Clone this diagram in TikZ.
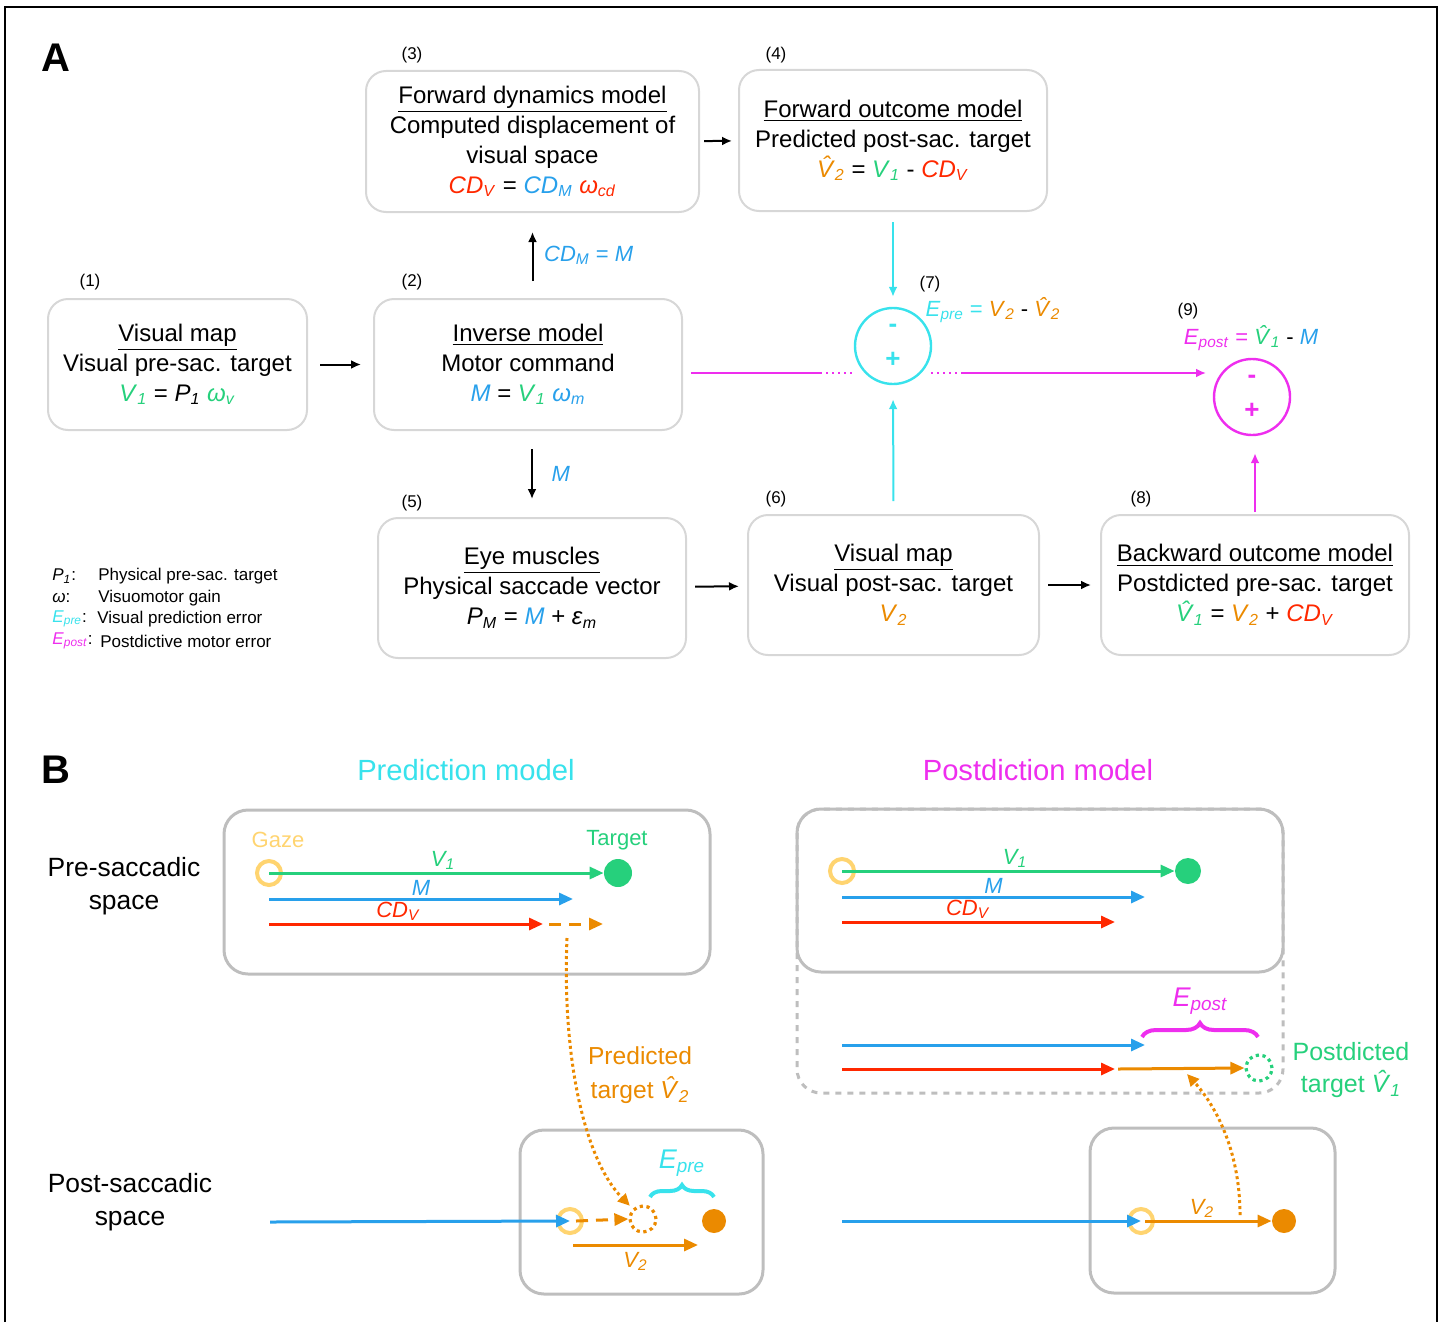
\documentclass[tikz,border=0pt]{standalone}
\usepackage{fontspec}
\setmainfont{Liberation Sans}
\usetikzlibrary{arrows.meta,positioning,decorations.pathreplacing,calc}

\definecolor{vgreen}{RGB}{38,208,124}
\definecolor{mblue}{RGB}{40,160,235}
\definecolor{cdred}{RGB}{255,40,0}
\definecolor{vorange}{RGB}{235,138,0}
\definecolor{precyan}{RGB}{56,226,236}
\definecolor{postmag}{RGB}{238,46,238}
\definecolor{gazeyel}{RGB}{255,212,112}
\definecolor{boxgray}{RGB}{215,215,215}
\definecolor{panelgray}{RGB}{190,190,190}

\newcommand{\vsym}[2]{\textit{#1}\textsubscript{\textit{#2}}}
\newcommand{\hsym}[2]{\textit{\rlap{\kern0.22em\raisebox{0.16em}{ˆ}}#1}\textsubscript{\textit{#2}}}

\begin{document}
\begin{tikzpicture}[
        x=0.5pt, y=-0.5pt,
        box/.style={draw=boxgray, line width=1pt, rounded corners=10pt, align=center, inner sep=2pt, font=\fontsize{12}{15}\selectfont},
        num/.style={font=\fontsize{8.5}{10}\selectfont, inner sep=0pt},
        legend/.style={anchor=west, font=\fontsize{8.5}{10}\selectfont, inner sep=0pt},
        errc/.style={circle, line width=1.2pt, minimum size=38pt, inner sep=0pt, align=center, font=\bfseries\fontsize{13}{17.5}\selectfont},
        link/.style={-{Latex[length=5pt,width=4.5pt]}, line width=1pt},
        letter/.style={font=\bfseries\fontsize{20}{20}\selectfont},
        panel/.style={draw=panelgray, line width=1.5pt, rounded corners=12pt},
        gaze/.style={circle, draw=gazeyel, line width=2pt, minimum size=12pt, inner sep=0pt},
        fulldot/.style={circle, fill=#1, minimum size=13pt, inner sep=0pt},
        ghost/.style={circle, draw=#1, line width=1.6pt, dash pattern=on 1.6pt off 1.8pt, minimum size=13pt, inner sep=0pt},
        vec/.style={-{Triangle[length=7pt,width=6pt]}, line width=1.5pt},
        jump/.style={-{Triangle[length=6pt,width=5.5pt]}, line width=1.5pt, dash pattern=on 1.5pt off 1.5pt, vorange},
        vlabel/.style={font=\itshape\fontsize{11}{13}\selectfont, inner sep=1pt},
        bigtext/.style={align=center, font=\fontsize{13.2}{16.5}\selectfont}
    ]
        \useasboundingbox (0,0) rectangle (1443,1322);
        \draw[line width=0.6pt] (5,1322) -- (5,7) -- (1437,7) -- (1437,1322);

        % Panel A
        \node[letter] (A) at (56,58) {A};
        \node[box, minimum width=129.5pt, minimum height=65.5pt] (vmap1) at (177.5,364.5)
            {\underline{Visual map}\\Visual pre-sac. target\\\textcolor{vgreen}{\vsym{V}{1}} = \vsym{P}{1} \textcolor{vgreen}{\vsym{ω}{v}}};
        \node[box, minimum width=154pt, minimum height=65.5pt] (inverse) at (528,364.5)
            {\underline{Inverse model}\\Motor command\\\textcolor{mblue}{\textit{M}} = \textcolor{vgreen}{\vsym{V}{1}} \textcolor{mblue}{\vsym{ω}{m}}};
        \node[box, minimum width=166.5pt, minimum height=70.5pt] (fwddyn) at (532.5,141.5)
            {\underline{Forward dynamics model}\\Computed displacement of\\visual space\\\textcolor{cdred}{\vsym{CD}{V}} = \textcolor{mblue}{\vsym{CD}{M}} \textcolor{cdred}{\vsym{ω}{cd}}};
        \node[box, minimum width=154pt, minimum height=70.5pt] (fwdout) at (893,140.5)
            {\underline{Forward outcome model}\\Predicted post-sac. target\\\textcolor{vorange}{\hsym{V}{2}} = \textcolor{vgreen}{\vsym{V}{1}} - \textcolor{cdred}{\vsym{CD}{V}}};
        \node[box, minimum width=154pt, minimum height=70pt] (muscles) at (532,588)
            {\underline{Eye muscles}\\Physical saccade vector\\\vsym{P}{M} = \textcolor{mblue}{\textit{M}} + \vsym{ε}{m}};
        \node[box, minimum width=145.5pt, minimum height=70pt] (vmap2) at (893.5,585)
            {\underline{Visual map}\\Visual post-sac. target\\\textcolor{vorange}{\vsym{V}{2}}};
        \node[box, minimum width=154pt, minimum height=70pt] (bwdout) at (1255,585)
            {\underline{Backward outcome model}\\Postdicted pre-sac. target\\\textcolor{vgreen}{\hsym{V}{1}} = \textcolor{vorange}{\vsym{V}{2}} + \textcolor{cdred}{\vsym{CD}{V}}};
        \node[errc, draw=precyan, text=precyan] (errpre) at (893,346) {-\\+};
        \node[errc, draw=postmag, text=postmag] (errpost) at (1252,397) {-\\+};

        % Numbers
        \node[num] (n1) at (90,282) {(1)};
        \node[num] (n2) at (412,282) {(2)};
        \node[num] (n3) at (412,55) {(3)};
        \node[num] (n4) at (776,55) {(4)};
        \node[num] (n5) at (412,503) {(5)};
        \node[num] (n6) at (776,499) {(6)};
        \node[num] (n7) at (930,284) {(7)};
        \node[num] (n8) at (1141,499) {(8)};
        \node[num] (n9) at (1188,311) {(9)};

        % Error formulas
        \node[font=\fontsize{11}{12}\selectfont] (fpre) at (993,310)
            {\textcolor{precyan}{\vsym{E}{pre} =} \textcolor{vorange}{\vsym{V}{2}} - \textcolor{vorange}{\hsym{V}{2}}};
        \node[font=\fontsize{11}{12}\selectfont] (fpost) at (1251,338)
            {\textcolor{postmag}{\vsym{E}{post} =} \textcolor{vgreen}{\hsym{V}{1}} - \textcolor{mblue}{\textit{M}}};

        % Arrows
        \draw[link, shorten <=6pt, shorten >=6pt] (vmap1) -- (inverse);
        \draw[link, shorten <=8.5pt, shorten >=9.5pt] (inverse.north -| fwddyn) -- (fwddyn.south)
            node[midway, right=2pt, font=\fontsize{11}{12}\selectfont, text=mblue] (cdm) {\vsym{CD}{M} = \textit{M}};
        \draw[link, shorten <=2pt, shorten >=3pt] (fwddyn) -- (fwdout);
        \draw[link, shorten <=9pt, shorten >=9pt] (inverse.south -| muscles) -- (muscles.north)
            node[midway, right=6pt, font=\itshape\fontsize{11}{12}\selectfont, text=mblue] (mlab) {M};
        \draw[link, shorten <=4pt, shorten >=4pt] (muscles) -- (vmap2);
        \draw[link, shorten <=4pt, shorten >=4.5pt] (vmap2) -- (bwdout);
        \draw[link, precyan, shorten <=5pt, shorten >=5pt] (fwdout.south) -- (errpre.north);
        \draw[link, precyan, shorten <=6.5pt, shorten >=7pt] (vmap2.north) -- (errpre.south);
        \draw[link, postmag, shorten <=1pt, shorten >=8.5pt] (bwdout.north) -- (errpost.south -| bwdout.north);

        % Magenta line past the prediction comparator
        \coordinate (m1) at (820,373);
        \coordinate (m2) at (855,373);
        \coordinate (m3) at (931,373);
        \coordinate (m4) at (962,373);
        \coordinate (m5) at (1206,373);
        \draw[postmag, line width=1pt] ([xshift=4pt,yshift=-4.25pt]inverse.east) -- (m1);
        \draw[postmag, line width=1pt, dotted] (m1) -- (m2);
        \draw[postmag, line width=1pt, dotted] (m3) -- (m4);
        \draw[link, postmag] (m4) -- (m5);

        % Legend
        \node[legend] (lp) at (52,576) {\vsym{P}{1}:};
        \node[legend] (lw) at (52,598) {\textit{ω}:};
        \node[legend] (le1) at (52,619) {\textcolor{precyan}{\vsym{E}{pre}}:};
        \node[legend] (le2) at (52,641) {\textcolor{postmag}{\vsym{E}{post}}:};
        \node[legend] (dp) at (98,576) {Physical pre-sac. target};
        \node[legend] (dw) at (98,598) {Visuomotor gain};
        \node[legend] (de1) at (97,619) {Visual prediction error};
        \node[legend] (de2) at (100,641) {Postdictive motor error};

        % Panel B
        \node[letter] (B) at (56,770) {B};
        \node[font=\fontsize{14.6}{16}\selectfont, text=precyan] (tpred) at (466,770) {Prediction model};
        \node[font=\fontsize{14.6}{16}\selectfont, text=postmag] (tpost) at (1038,770) {Postdiction model};
        \node[bigtext] (rowpre) at (124,886) {Pre-saccadic\\space};
        \node[bigtext] (rowpost) at (130,1202) {Post-saccadic\\space};

        % Prediction, pre-saccadic space
        \node[panel, minimum width=243pt, minimum height=82pt] (predpre) at (467,892) {};
        \node[gaze] (gz1) at (269,873) {};
        \node[fulldot=vgreen, minimum size=14pt] (tg1) at (618,873) {};
        \node[font=\fontsize{11}{13}\selectfont, text=gazeyel] (lgaze) at (278,840) {Gaze};
        \node[font=\fontsize{11}{13}\selectfont, text=vgreen] (ltarget) at (617,840) {Target};
        \coordinate (mb1) at (269,899);
        \coordinate (me1) at (573,899);
        \coordinate (cb1) at (269,924);
        \coordinate (ce1) at (543,924);
        \coordinate (xb1) at (549,924);
        \coordinate (xe1) at (603,924);
        \draw[vec, vgreen] (gz1.center) -- (tg1.west) node[pos=0.52, above, vlabel, text=vgreen] {\vsym{V}{1}};
        \draw[vec, mblue] (mb1) -- (me1) node[pos=0.5, above, vlabel, text=mblue] {M};
        \draw[vec, cdred] (cb1) -- (ce1) node[pos=0.47, above, vlabel, text=cdred] {CD\textsubscript{V}};
        \draw[vec, vorange, dash pattern=on 6pt off 4pt] (xb1) -- (xe1);

        % Prediction, post-saccadic space
        \node[panel, minimum width=121.5pt, minimum height=82pt] (predpost) at (641.5,1212) {};
        \node[gaze] (gz2) at (570,1221) {};
        \node[ghost=vorange] (pv2) at (643,1219) {};
        \node[fulldot=vorange, minimum size=12pt] (od2) at (714,1221) {};
        \coordinate (mb2) at (270,1222);
        \coordinate (vb2) at (573,1245);
        \coordinate (ve2) at (698,1245);
        \draw[vec, mblue] (mb2) -- (gz2.center);
        \draw[vec, vorange, dash pattern=on 6pt off 4pt] ([xshift=3pt]gz2.center) -- (pv2.west);
        \draw[vec, vorange] (vb2) -- (ve2) node[midway, below=2pt, vlabel, text=vorange] {\vsym{V}{2}};
        \draw[decorate, decoration={brace, amplitude=6pt}, line width=2pt, precyan]
            ([xshift=3.5pt,yshift=11pt]pv2.center) -- ([yshift=12pt]od2.center)
            node[midway, above=6pt, font=\itshape\fontsize{13.5}{15}\selectfont, text=precyan] (lepre) {E\textsubscript{pre}};
        \node[align=center, font=\fontsize{12.3}{17}\selectfont, text=vorange] (lpred) at (640,1075) {Predicted\\target \hsym{V}{2}};
        \coordinate (jb1) at (567,938);
        \draw[jump, shorten >=2pt] (jb1) .. controls (562,1060) and (585,1160) .. (pv2.north west);

        % Postdiction, pre-saccadic space
        \draw[panel, dashed] (797,809) rectangle (1283,1093);
        \node[panel, minimum width=243pt, minimum height=81.5pt] (postpre) at (1040,890.5) {};
        \node[gaze] (gz3) at (842,871) {};
        \node[fulldot=vgreen] (tg3) at (1188,871) {};
        \coordinate (mb3) at (842,897);
        \coordinate (me3) at (1145,897);
        \coordinate (cb3) at (842,922);
        \coordinate (ce3) at (1115,922);
        \draw[vec, vgreen] (gz3.center) -- (tg3.west) node[pos=0.52, above, vlabel, text=vgreen] {\vsym{V}{1}};
        \draw[vec, mblue] (mb3) -- (me3) node[pos=0.5, above, vlabel, text=mblue] {M};
        \draw[vec, cdred] (cb3) -- (ce3) node[pos=0.46, above, vlabel, text=cdred] {CD\textsubscript{V}};

        % Postdicted target
        \node[ghost=vgreen] (pv1) at (1259,1068) {};
        \coordinate (mb4) at (842,1045);
        \coordinate (me4) at (1145,1045);
        \coordinate (cb4) at (842,1069);
        \coordinate (ce4) at (1115,1069);
        \coordinate (ob4) at (1118,1069);
        \draw[vec, mblue] (mb4) -- (me4);
        \draw[vec, cdred] (cb4) -- (ce4);
        \draw[vec, vorange] (ob4) -- (pv1.west);
        \coordinate (bl) at (1142,1037);
        \coordinate (br) at (1258,1037);
        \draw[decorate, decoration={brace, amplitude=7pt}, line width=2pt, postmag] (bl) -- (br)
            node[midway, above=7pt, font=\itshape\fontsize{13.5}{15}\selectfont, text=postmag] (lepost) {E\textsubscript{post}};
        \node[align=center, font=\fontsize{12.5}{16}\selectfont, text=vgreen] (lpost) at (1351,1070) {Postdicted\\target \hsym{V}{1}};

        % Postdiction, post-saccadic space
        \node[panel, minimum width=122.5pt, minimum height=82.5pt] (postpost) at (1212.5,1210.5) {};
        \node[gaze] (gz4) at (1141,1221) {};
        \node[fulldot=vorange, minimum size=12pt] (od4) at (1284,1221) {};
        \coordinate (mb5) at (842,1221);
        \draw[vec, mblue] (mb5) -- (gz4.center);
        \draw[vec, vorange] ([xshift=2pt]gz4.center) -- (od4.west) node[pos=0.45, above, vlabel, text=vorange] {\vsym{V}{2}};
        \coordinate (jb2) at (1240,1215);
        \coordinate (je2) at (1187,1074);
        \draw[jump] (jb2) .. controls (1240,1150) and (1215,1105) .. (je2);
    \end{tikzpicture}
\end{document}
